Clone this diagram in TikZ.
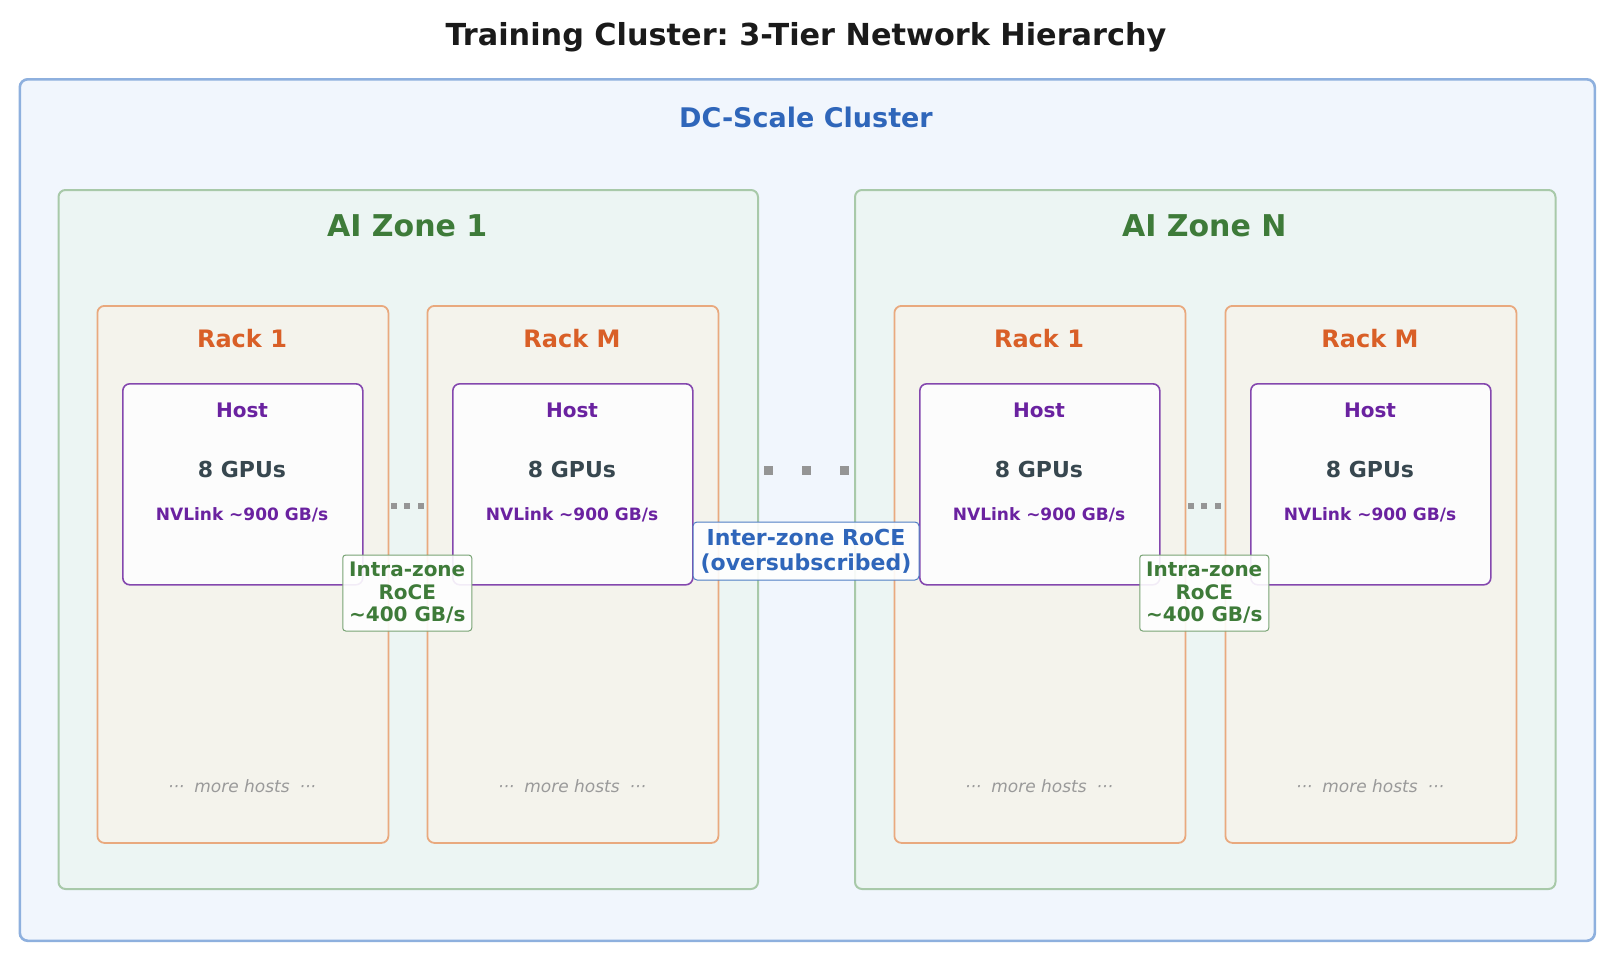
\documentclass[tikz,border=0pt]{standalone}
\usepackage{fontspec}
\setmainfont{DejaVu Sans}
\frenchspacing
\definecolor{outerfill}{HTML}{F1F6FD}
\definecolor{outerdraw}{HTML}{8EB0DE}
\definecolor{zonefill}{HTML}{ECF5F3}
\definecolor{zonedraw}{HTML}{A8C9A9}
\definecolor{rackfill}{HTML}{F4F3EC}
\definecolor{rackdraw}{HTML}{E9A97E}
\definecolor{hostfill}{HTML}{FCFCFC}
\definecolor{hostdraw}{HTML}{8447AE}
\definecolor{bluetxt}{HTML}{2F66BA}
\definecolor{greentxt}{HTML}{3E7B39}
\definecolor{orangetxt}{HTML}{D95F27}
\definecolor{purpletxt}{HTML}{6A22A0}
\definecolor{darktxt}{HTML}{37474F}
\definecolor{greytxt}{HTML}{9A9A9A}
\definecolor{dotgrey}{HTML}{959595}
\definecolor{titletxt}{HTML}{1A1A1A}
\tikzset{
  fsz/.style={font=\bfseries\fontsize{#1}{#1}\selectfont},
  outerbox/.style={draw=outerdraw,fill=outerfill,line width=2.6pt,rounded corners=8pt},
  zonebox/.style={draw=zonedraw,fill=zonefill,line width=2pt,rounded corners=7pt},
  rackbox/.style={draw=rackdraw,fill=rackfill,line width=1.8pt,rounded corners=7pt},
  hostbox/.style={draw=hostdraw,fill=hostfill,line width=1.6pt,rounded corners=7pt},
  txt/.style={inner sep=0pt,anchor=base},
  smalldot/.style={fill=dotgrey,minimum size=6pt,inner sep=0pt,draw=none},
  bigdot/.style={fill=dotgrey,minimum size=9pt,inner sep=0pt,draw=none},
  intralabel/.style={draw=greentxt!70,fill=white,fill opacity=0.9,text opacity=1,line width=1pt,rounded corners=3pt,
    text=greentxt,align=center,font=\bfseries\fontsize{20}{22.5}\selectfont,minimum width=129pt,minimum height=76pt,inner sep=0pt},
  interlabel/.style={draw=bluetxt!85,fill=white,fill opacity=0.9,text opacity=1,line width=1pt,rounded corners=4pt,
    text=bluetxt,align=center,font=\bfseries\fontsize{22}{25}\selectfont,minimum width=226pt,minimum height=58pt,inner sep=0pt},
}
\newcommand{\rackwithhost}[4]{%
  % #1 name, #2 rack left x, #3 host left x, #4 rack title
  \node[rackbox,minimum width=291pt,minimum height=537pt,anchor=north west,inner sep=0pt] (#1) at (#2,305) {};
  \node[txt,fsz=24,text=orangetxt] (#1-title) at ($(#2,347.8)+(145.5,0)$) {#4};
  \node[hostbox,minimum width=240pt,minimum height=201pt,anchor=north west,inner sep=0pt] (#1-host) at (#3,383) {};
  \node[txt,fsz=20,text=purpletxt] (#1-hostlbl) at ($(#3,417.3)+(120,0)$) {Host};
  \node[txt,fsz=22,text=darktxt] (#1-gpus) at ($(#3,477)+(120,0)$) {8 GPUs};
  \node[txt,fsz=17,text=purpletxt] (#1-nvl) at ($(#3,520)+(120,0)$) {NVLink \textasciitilde900 GB/s};
  \node[txt,text=greytxt,font=\itshape\fontsize{17}{17}\selectfont] (#1-more) at ($(#2,792.3)+(145.5,0)$) {···\hspace{10pt}more hosts\hspace{10pt}···};
}
\usetikzlibrary{calc}
\begin{document}
\begin{tikzpicture}[x=1pt,y=-1pt]
\useasboundingbox (0,0) rectangle (1612,962);
\fill[white] (0,0) rectangle (1612,962);
\node[txt,fsz=30.3,text=titletxt] (title) at (806,45) {Training Cluster: 3-Tier Network Hierarchy};
\node[outerbox,minimum width=1575pt,minimum height=861.5pt,anchor=north west,inner sep=0pt] (dc) at (18.5,78) {};
\node[txt,fsz=27,text=bluetxt] (dctitle) at (806,127.9) {DC-Scale Cluster};
% zones
\node[zonebox,minimum width=699.5pt,minimum height=699pt,anchor=north west,inner sep=0pt] (z1) at (57.5,189) {};
\node[txt,fsz=30,text=greentxt] (z1title) at (407.25,236) {AI Zone 1};
\node[zonebox,minimum width=700.5pt,minimum height=699pt,anchor=north west,inner sep=0pt] (zN) at (854,189) {};
\node[txt,fsz=30,text=greentxt] (zNtitle) at (1204.25,236) {AI Zone N};
% racks
\rackwithhost{r11}{96.5}{122}{Rack 1}
\rackwithhost{r1M}{426.5}{452}{Rack M}
\rackwithhost{rN1}{893.5}{919}{Rack 1}
\rackwithhost{rNM}{1224.5}{1250}{Rack M}
% intra dots
\node[smalldot] (d1a) at (393.5,506) {};
\node[smalldot] (d1b) at (407.25,506) {};
\node[smalldot] (d1c) at (421,506) {};
\node[smalldot] (dNa) at (1190.5,506) {};
\node[smalldot] (dNb) at (1204.25,506) {};
\node[smalldot] (dNc) at (1218,506) {};
% inter dots
\node[bigdot] (ia) at (768,470) {};
\node[bigdot] (ib) at (806,470) {};
\node[bigdot] (ic) at (844,470) {};
% labels
\node[intralabel] (intra1) at (407.25,593) {Intra-zone\\RoCE\\\textasciitilde400 GB/s};
\node[intralabel] (intraN) at (1204.25,593) {Intra-zone\\RoCE\\\textasciitilde400 GB/s};
\node[interlabel] (inter) at (806,551) {Inter-zone RoCE\\(oversubscribed)};
\end{tikzpicture}
\end{document}
